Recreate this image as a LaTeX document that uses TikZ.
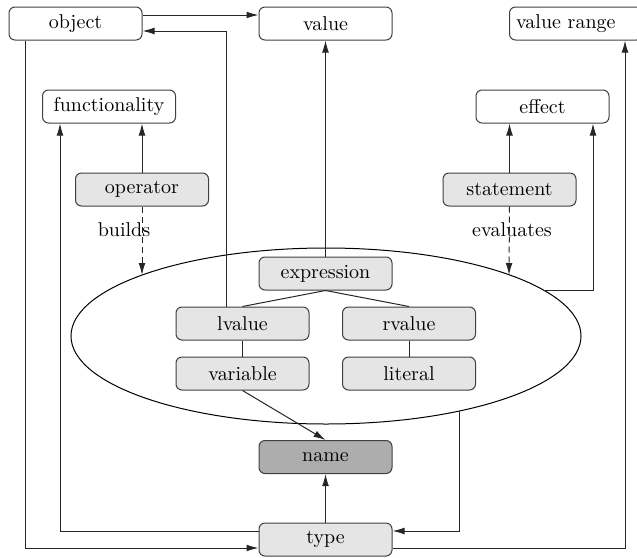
\documentclass[tikz,border=0pt]{standalone}
\usetikzlibrary{arrows.meta,shapes.geometric}
\begin{document}
\begin{tikzpicture}[x=0.5pt,y=-0.5pt,
  box/.style={draw=black!75, rounded corners=3pt, minimum width=66.5pt, minimum height=16.5pt, inner sep=0pt, line width=0.5pt},
  gbox/.style={box, fill=black!10},
  nbox/.style={box, fill=black!32},
  conn/.style={line width=0.5pt, draw=black!85},
  arr/.style={conn, -{Latex[length=6pt,width=3.4pt]}},
  darr/.style={arr, dash pattern=on 3pt off 2pt},
  lbl/.style={inner sep=1pt}]
\useasboundingbox (0,0) rectangle (637,557);
% ellipse
\node[draw, ellipse, line width=0.5pt, minimum width=255pt, minimum height=88pt, inner sep=0pt] (ell) at (326,336) {};
\coordinate (opE) at (142,275);
\coordinate (stE) at (509,275);
\coordinate (elR) at (543,290);
\coordinate (elB) at (459,411);
% nodes
\node[box] (object) at (75.5,23.5) {object};
\node[box] (value) at (325.5,23.5) {value};
\node[box, anchor=west, text width=60pt, inner xsep=3pt, align=left] (range) at (509,23.5) {value range};
\node[box] (func) at (109,106.5) {functionality};
\node[box] (effect) at (542.5,106.5) {effect};
\node[gbox] (operator) at (142,189.5) {operator};
\node[gbox] (statement) at (509.5,189.5) {statement};
\node[gbox] (expr) at (325.5,273.5) {expression};
\node[gbox] (lvalue) at (242.5,323.5) {lvalue};
\node[gbox] (rvalue) at (409,323.5) {rvalue};
\node[gbox] (variable) at (242.5,373.5) {variable};
\node[gbox] (literal) at (409,373.5) {literal};
\node[nbox] (name) at (325.5,457) {name};
\node[gbox] (type) at (325.5,539.5) {type};
\node[lbl] (builds) at (124,230) {builds};
\node[lbl] (evals) at (512,230) {evaluates};
% connectors
\draw[arr] (object.east |- 0,15) -- (value.west |- 0,15);
\draw[arr] (lvalue.north -| 226,0) |- (object.east |- 0,31);
\draw[arr] (object.south -| 25,0) |- (type.west |- 0,548);
\draw[arr] (type.west |- 0,531) -| (func.south -| 60,0);
\draw[arr] (operator.north) -- (func.south -| operator.north);
\draw[darr] (operator.south) -- (opE);
\draw[arr] (statement.north) -- (effect.south -| statement.north);
\draw[darr] (statement.south) -- (stE);
\draw[arr] (elR) -| (effect.south -| 593,0);
\draw[arr] (type.east |- 0,548) -| (range.south -| 625,0);
\draw[arr] (elB) |- (type.east |- 0,531);
\draw[arr] (expr.north) -- (value.south);
\draw[conn] (expr.south) -- (lvalue.north);
\draw[conn] (expr.south) -- (rvalue.north);
\draw[conn] (lvalue.south) -- (variable.north);
\draw[conn] (rvalue.south) -- (literal.north);
\draw[arr] (variable.south) -- (name.north);
\draw[arr] (type.north) -- (name.south);
\end{tikzpicture}
\end{document}
